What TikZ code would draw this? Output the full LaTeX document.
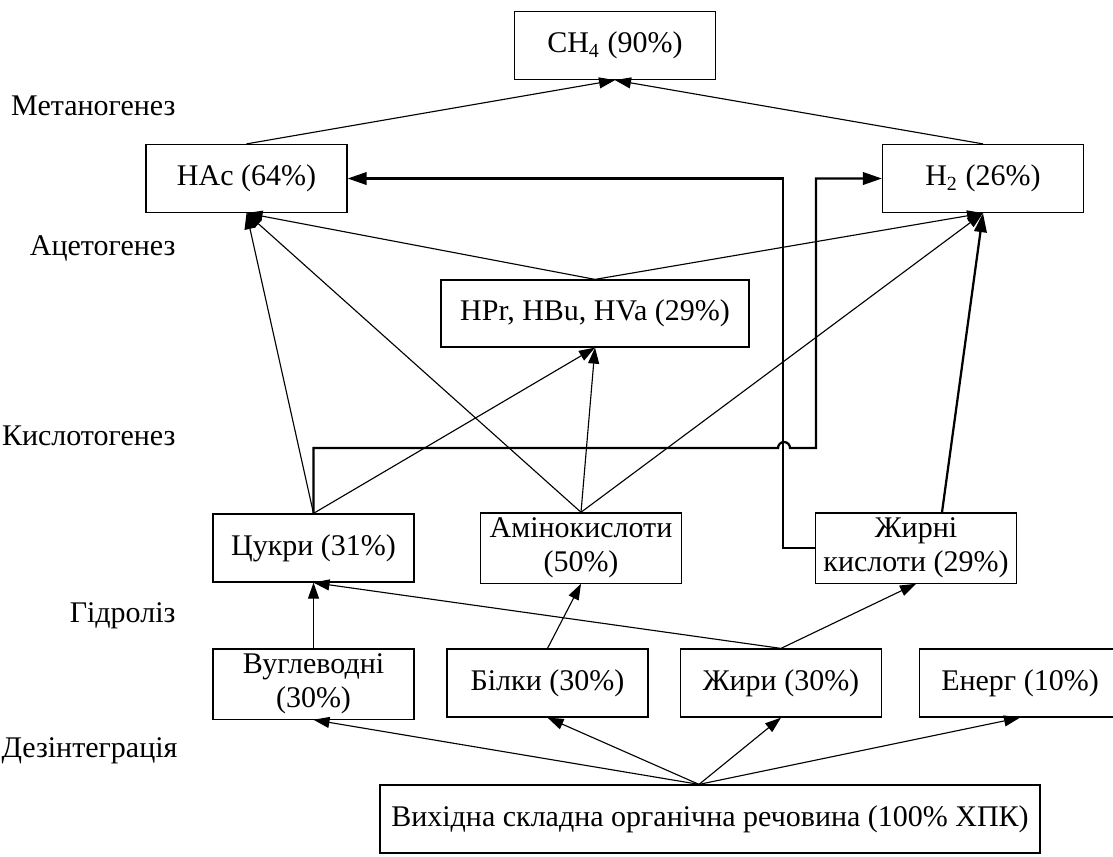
\documentclass[tikz,border=0pt]{standalone}
\usepackage{fontspec}
\setmainfont{Liberation Serif}
\usetikzlibrary{arrows.meta,calc}

\begin{document}
\begin{tikzpicture}[x=0.4pt,y=-0.4pt,
  box/.style={draw,line width=0.5pt,minimum width=80.4pt,minimum height=27.2pt,
    align=center,inner sep=2pt,font=\fontsize{12}{13.6}\selectfont},
  stage/.style={anchor=east,inner sep=0pt,font=\fontsize{12}{13.6}\selectfont},
  link/.style={-{Triangle[length=6.4pt,width=4.4pt]},line width=0.45pt},
  flow/.style={-{Triangle[length=7.6pt,width=5pt]},line width=0.9pt}]
  \clip (0,0) rectangle (1113,856);

  \node[stage] (lmeth) at (176,106) {Метаногенез};
  \node[stage] (lacet) at (176,248) {Ацетогенез};
  \node[stage] (lacid) at (176,436) {Кислотогенез};
  \node[stage] (lhydr) at (176,616) {Гідроліз};
  \node[stage] (ldis) at (178,751) {Дезінтеграція};

  \node[box] (ch4) at (615,45.5) {CH\textsubscript{4} (90\%)};
  \node[box] (hac) at (246.5,178.5) {HAc (64\%)};
  \node[box] (h2) at (983,178.5) {H\textsubscript{2} (26\%)};
  \node[box,minimum width=123.2pt,minimum height=26.8pt] (hpr) at (595,313.5) {HPr, HBu, HVa (29\%)};
  \node[box] (sugar) at (313.5,548) {Цукри (31\%)};
  \node[box] (amino) at (581,548) {Амінокислоти\\(50\%)};
  \node[box] (fatacid) at (916,548) {Жирні\\кислоти (29\%)};
  \node[box] (carb) at (313.5,684) {Вуглеводні\\(30\%)};
  \node[box] (prot) at (547.5,683) {Білки (30\%)};
  \node[box] (fat) at (781,683) {Жири (30\%)};
  \node[box] (energ) at (1020,683) {Енерг (10\%)};
  \node[box,minimum width=264pt] (src) at (710,819) {Вихідна складна органічна речовина (100\% ХПК)};

  \draw[link] (hac.north) -- (ch4.south);
  \draw[link] (h2.north) -- (ch4.south);
  \draw[link] (hpr.north) -- (hac.south);
  \draw[link] (hpr.north) -- (h2.south);
  \draw[link] (sugar.north) -- (hac.south);
  \draw[link] (sugar.north) -- (hpr.south);
  \draw[link] (amino.north) -- (hac.south);
  \draw[link] (amino.north) -- (hpr.south);
  \draw[link] (amino.north) -- (h2.south);
  \draw[flow] ($(fatacid.north)+(26,0)$) -- (h2.south);
  \draw[flow] (sugar.north) |- (778,448) arc[start angle=180,end angle=0,radius=2.4pt]
    -- (816,448) |- (h2.west);
  \draw[flow] (fatacid.west) -- ++(-32,0) |- (hac.east);

  \draw[link] (carb.north) -- (sugar.south);
  \draw[link] (prot.north) -- (amino.south);
  \draw[link] (fat.north) -- (sugar.south);
  \draw[link] (fat.north) -- (fatacid.south);

  \coordinate (fork) at ($(src.north)+(-11,0)$);
  \foreach \t in {carb,prot,fat,energ}
    \draw[link] (fork) -- (\t.south);
\end{tikzpicture}
\end{document}
